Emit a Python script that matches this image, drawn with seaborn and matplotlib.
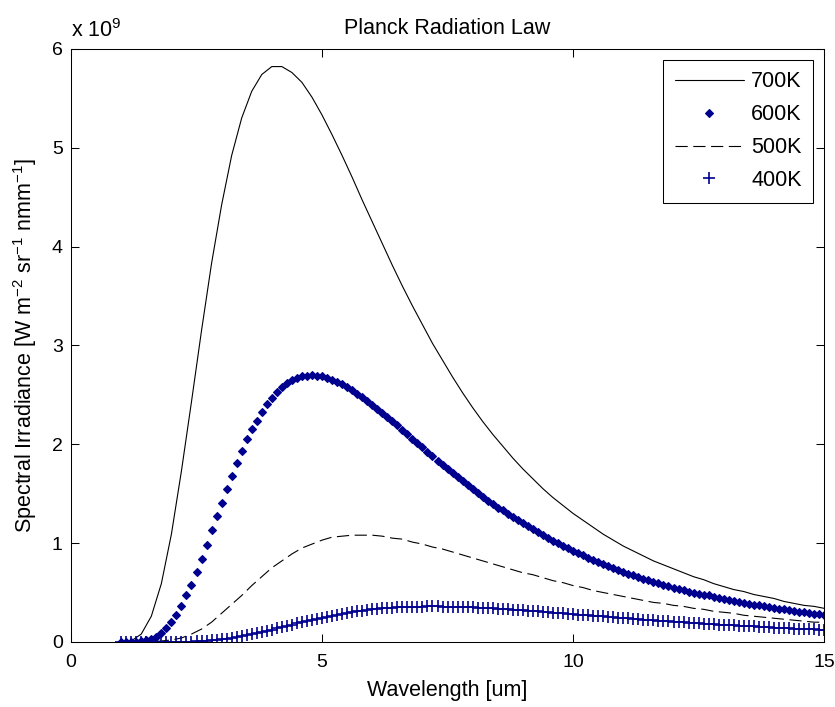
import numpy as np
import matplotlib
matplotlib.use("Agg")
from matplotlib import pyplot as plt
import seaborn as sns

# wavelength grids [um]
wl_line = np.linspace(1, 15, 71)     # solid / dashed curves
wl_mark = np.linspace(1, 15, 141)    # marker curves

# spectral irradiance, in units of 1e9
t700 = [0.00, 0.01, 0.08, 0.26, 0.59, 1.09, 1.73, 2.43, 3.15, 3.83,
        4.42, 4.92, 5.30, 5.57, 5.74, 5.82, 5.82, 5.76, 5.66, 5.51,
        5.33, 5.13, 4.92, 4.70, 4.47, 4.25, 4.03, 3.81, 3.60, 3.40,
        3.21, 3.02, 2.85, 2.68, 2.52, 2.37, 2.23, 2.10, 1.98, 1.86,
        1.75, 1.65, 1.55, 1.46, 1.38, 1.30, 1.23, 1.16, 1.09, 1.03,
        0.97, 0.92, 0.87, 0.82, 0.78, 0.74, 0.70, 0.66, 0.63, 0.59,
        0.56, 0.53, 0.51, 0.48, 0.46, 0.44, 0.41, 0.39, 0.37, 0.36,
        0.34]

t500 = [0.00, 0.00, 0.00, 0.00, 0.01, 0.02, 0.04, 0.08, 0.13, 0.20,
        0.29, 0.38, 0.47, 0.57, 0.66, 0.75, 0.82, 0.89, 0.95, 0.99,
        1.03, 1.06, 1.07, 1.08, 1.08, 1.08, 1.07, 1.05, 1.04, 1.01,
        0.99, 0.96, 0.94, 0.91, 0.88, 0.85, 0.82, 0.79, 0.76, 0.73,
        0.70, 0.68, 0.65, 0.62, 0.60, 0.57, 0.55, 0.52, 0.50, 0.48,
        0.46, 0.44, 0.42, 0.40, 0.39, 0.37, 0.36, 0.34, 0.33, 0.31,
        0.30, 0.29, 0.27, 0.26, 0.25, 0.24, 0.23, 0.22, 0.21, 0.20,
        0.20]

t600 = [0.00, 0.00, 0.00, 0.00, 0.01, 0.02, 0.03, 0.05, 0.09, 0.14,
        0.20, 0.27, 0.36, 0.47, 0.58, 0.71, 0.84, 0.98, 1.13, 1.27,
        1.41, 1.55, 1.68, 1.81, 1.93, 2.05, 2.15, 2.24, 2.33, 2.41,
        2.47, 2.53, 2.58, 2.62, 2.65, 2.67, 2.69, 2.69, 2.70, 2.69,
        2.69, 2.67, 2.65, 2.63, 2.61, 2.58, 2.55, 2.51, 2.48, 2.44,
        2.40, 2.36, 2.32, 2.28, 2.23, 2.19, 2.14, 2.10, 2.05, 2.01,
        1.97, 1.92, 1.88, 1.83, 1.79, 1.75, 1.71, 1.67, 1.63, 1.59,
        1.55, 1.51, 1.47, 1.43, 1.40, 1.36, 1.33, 1.29, 1.26, 1.23,
        1.20, 1.17, 1.14, 1.11, 1.08, 1.05, 1.02, 1.00, 0.97, 0.95,
        0.92, 0.90, 0.88, 0.85, 0.83, 0.81, 0.79, 0.77, 0.75, 0.73,
        0.71, 0.69, 0.68, 0.66, 0.64, 0.63, 0.61, 0.60, 0.58, 0.57,
        0.55, 0.54, 0.53, 0.51, 0.50, 0.49, 0.48, 0.47, 0.45, 0.44,
        0.43, 0.42, 0.41, 0.40, 0.39, 0.38, 0.37, 0.37, 0.36, 0.35,
        0.34, 0.33, 0.33, 0.32, 0.31, 0.30, 0.30, 0.29, 0.28, 0.28,
        0.27]

t400 = [0.00, 0.00, 0.00, 0.00, 0.00, 0.00, 0.00, 0.00, 0.00, 0.00,
        0.00, 0.00, 0.00, 0.00, 0.00, 0.01, 0.01, 0.01, 0.02, 0.02,
        0.03, 0.03, 0.04, 0.05, 0.06, 0.07, 0.08, 0.09, 0.10, 0.11,
        0.12, 0.14, 0.15, 0.16, 0.17, 0.19, 0.20, 0.21, 0.22, 0.23,
        0.24, 0.25, 0.26, 0.27, 0.28, 0.29, 0.30, 0.31, 0.31, 0.32,
        0.33, 0.33, 0.34, 0.34, 0.34, 0.35, 0.35, 0.35, 0.35, 0.35,
        0.35, 0.36, 0.36, 0.36, 0.35, 0.35, 0.35, 0.35, 0.35, 0.35,
        0.35, 0.34, 0.34, 0.34, 0.34, 0.33, 0.33, 0.33, 0.32, 0.32,
        0.32, 0.31, 0.31, 0.31, 0.30, 0.30, 0.29, 0.29, 0.29, 0.28,
        0.28, 0.27, 0.27, 0.27, 0.26, 0.26, 0.26, 0.25, 0.25, 0.24,
        0.24, 0.24, 0.23, 0.23, 0.22, 0.22, 0.22, 0.21, 0.21, 0.21,
        0.20, 0.20, 0.20, 0.19, 0.19, 0.19, 0.18, 0.18, 0.18, 0.17,
        0.17, 0.17, 0.17, 0.16, 0.16, 0.16, 0.16, 0.15, 0.15, 0.15,
        0.14, 0.14, 0.14, 0.14, 0.13, 0.13, 0.13, 0.13, 0.13, 0.12,
        0.12]

sns.set_style("ticks")
plt.rcParams["font.family"] = ["Liberation Sans", "DejaVu Sans"]
plt.rcParams["mathtext.fontset"] = "custom"
plt.rcParams["mathtext.rm"] = "Liberation Sans"
plt.rcParams["mathtext.default"] = "regular"
for k in ["text.color", "axes.labelcolor", "xtick.color", "ytick.color", "axes.edgecolor"]:
    plt.rcParams[k] = "black"

fs = 15.5      # labels, title, legend
fs_tick = 14
navy = "#00008f"

fig = plt.figure(figsize=(8.35, 7.07), dpi=100)
ax = fig.add_axes([0.085, 0.092, 0.902, 0.839])

sns.lineplot(x=wl_line, y=np.array(t700) * 1e9, ax=ax, color="black", lw=0.8,
             errorbar=None, label="700K")
sns.lineplot(x=wl_mark, y=np.array(t600) * 1e9, ax=ax, color=navy, ls="none",
             marker="D", ms=4.0, mec=navy, mew=0.8, errorbar=None, label="600K")
sns.lineplot(x=wl_line, y=np.array(t500) * 1e9, ax=ax, color="black", lw=0.8,
             ls=(0, (11, 5)), errorbar=None, label="500K")
sns.lineplot(x=wl_mark, y=np.array(t400) * 1e9, ax=ax, color=navy, ls="none",
             marker="+", ms=8.5, mec=navy, mew=1.2, errorbar=None, label="400K")

ax.set_xlim(0, 15)
ax.set_ylim(0, 6e9)
ax.set_xticks([0, 5, 10, 15])
ax.set_yticks(np.arange(7) * 1e9)
ax.yaxis.set_major_formatter(lambda v, p: f"{v / 1e9:g}")
ax.tick_params(direction="in", top=True, right=True, length=5.5, width=0.75,
               labelsize=fs_tick)
ax.tick_params(axis="x", pad=9)
ax.tick_params(axis="y", pad=6)
for s in ax.spines.values():
    s.set_linewidth(0.75)

ax.set_xlabel("Wavelength [um]", fontsize=fs, labelpad=6)
ax.set_ylabel(r"Spectral Irradiance [W m$^{-2}$ sr$^{-1}$ nmm$^{-1}$]", fontsize=fs, labelpad=9)
ax.set_title("Planck Radiation Law", fontsize=fs, pad=11)
ax.text(0, 1.012, r"x 10$^{9}$", transform=ax.transAxes, ha="left", va="bottom", fontsize=fs)

leg = ax.legend(loc="upper right", fontsize=fs, frameon=True, fancybox=False,
                edgecolor="black", framealpha=1, handlelength=3.2,
                handletextpad=0.35, labelspacing=0.55, borderpad=0.55)
leg.get_frame().set_linewidth(0.75)

fig.savefig("out.png", dpi=100)
